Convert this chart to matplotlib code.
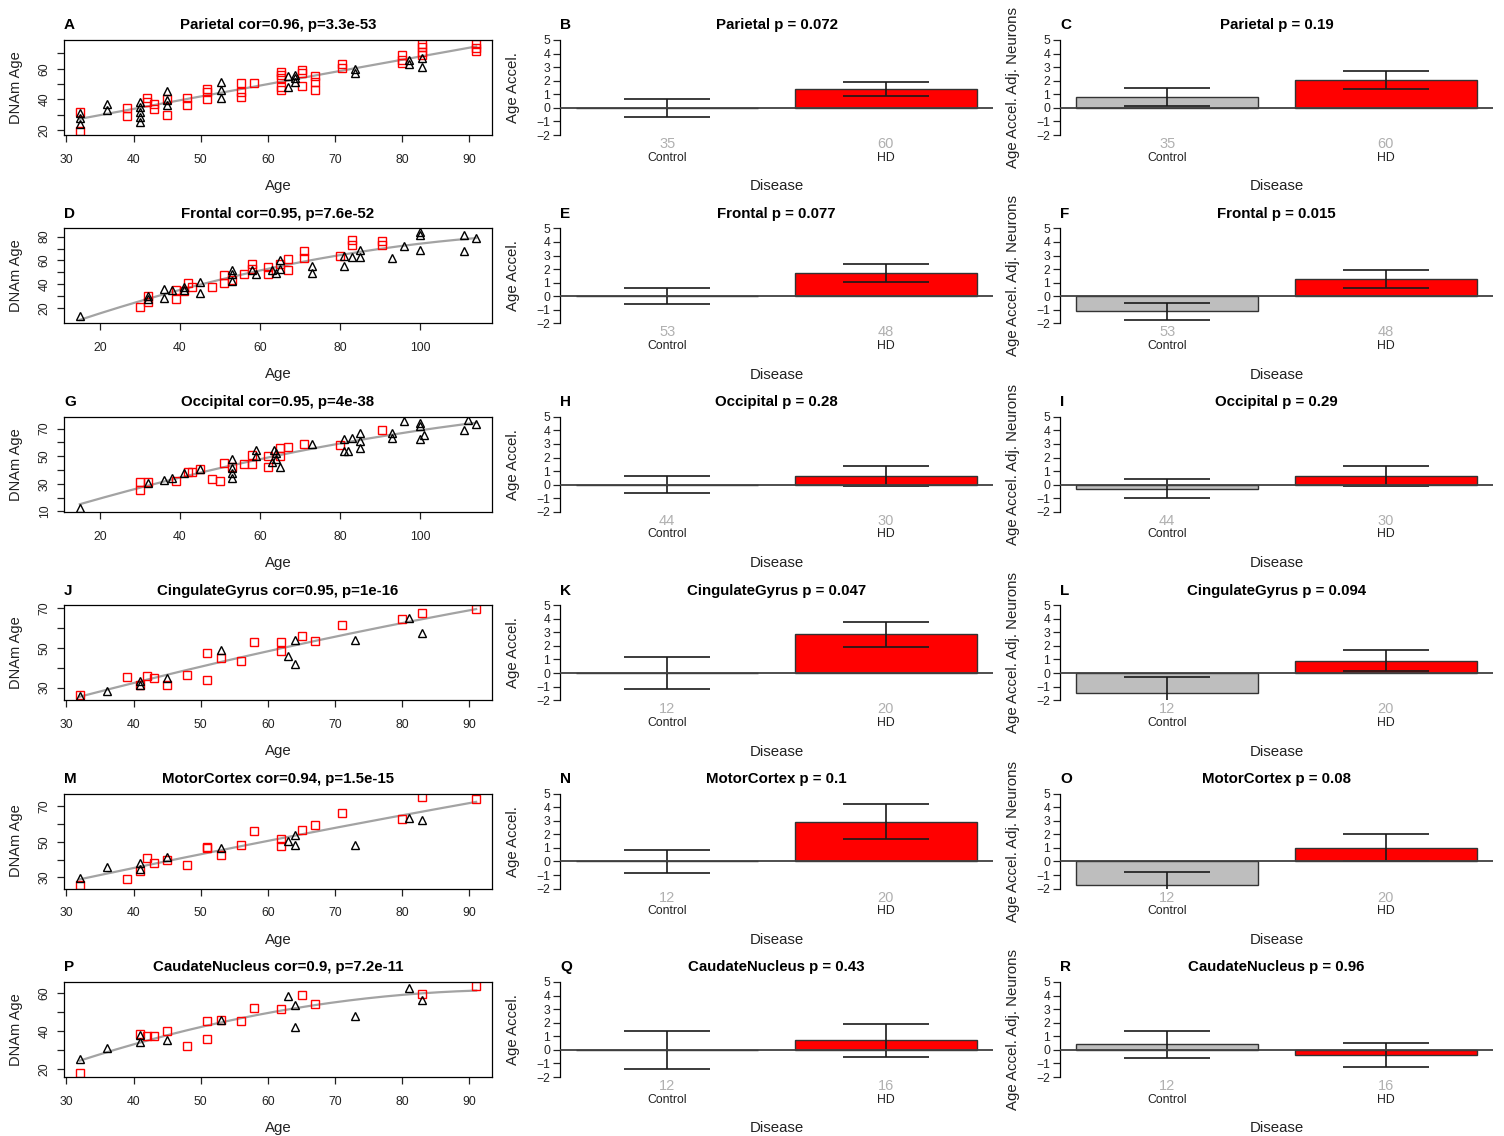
import numpy as np
import matplotlib
matplotlib.use('Agg')
import matplotlib.pyplot as plt

plt.rcParams['font.family'] = ['Liberation Sans', 'DejaVu Sans']

# ---- data ----
regions = ['Parietal', 'Frontal', 'Occipital', 'CingulateGyrus', 'MotorCortex', 'CaudateNucleus']
cor_txt = ['0.96', '0.95', '0.95', '0.95', '0.94', '0.9']
corp_txt = ['3.3e-53', '7.6e-52', '4e-38', '1e-16', '1.5e-15', '7.2e-11']
accel_p = ['0.072', '0.077', '0.28', '0.047', '0.1', '0.43']
adj_p = ['0.19', '0.015', '0.29', '0.094', '0.08', '0.96']
n_ctrl = [35, 53, 44, 12, 12, 12]
n_hd = [60, 48, 30, 20, 20, 16]
groups = ['Control', 'HD']

# age acceleration (mean, se)
accel_ctrl = [0.0, 0.0, 0.0, 0.0, 0.0, 0.0]
accel_ctrl_se = [0.66, 0.6, 0.65, 1.2, 0.87, 1.38]
accel_hd = [1.38, 1.7, 0.65, 2.85, 2.94, 0.7]
accel_hd_se = [0.5, 0.68, 0.72, 0.92, 1.3, 1.22]
# age acceleration adjusted for neurons
adj_ctrl = [0.81, -1.1, -0.3, -1.5, -1.7, 0.42]
adj_ctrl_se = [0.68, 0.63, 0.7, 1.18, 0.95, 0.99]
adj_hd = [2.04, 1.25, 0.65, 0.92, 1.0, -0.37]
adj_hd_se = [0.65, 0.65, 0.72, 0.77, 1.0, 0.87]

# scatter: HD = red squares, Control = black triangles
par_hd_age = [32, 32, 39, 39, 42, 42, 43, 43, 45, 45, 48, 48, 51, 51, 51, 56, 56, 56, 58, 62, 62, 62, 62, 62,
              65, 65, 65, 67, 67, 67, 71, 71, 80, 80, 80, 83, 83, 83, 83, 91, 91, 91]
par_hd_dnam = [19, 32, 34.6, 29, 40.6, 38.5, 36.7, 34, 30, 40, 41, 36, 47, 45, 40, 51, 44.6, 41.5, 50.4, 58, 56,
               53.7, 48, 46, 59, 57, 49, 55, 51.5, 46, 63, 60.6, 69, 66, 63.5, 76, 74, 71, 69, 76.5, 73.7, 71.5]
par_ct_age = [32, 32, 32, 36, 36, 41, 41, 41, 41, 41, 45, 45, 45, 53, 53, 53, 63, 63, 64, 64, 64, 73, 73, 81, 81, 83, 83]
par_ct_dnam = [31, 27.6, 24, 37, 33, 38.5, 35, 32, 28.7, 25, 45.4, 39.6, 36.3, 51.5, 46, 40.6, 55, 48, 56, 53.7,
               51.5, 60, 57, 66, 63, 67, 61]

fro_hd_age = [30, 32, 32, 39, 39, 42, 41, 43, 48, 51, 51, 53, 56, 58, 58, 62, 62, 65, 67, 67, 71, 71, 80, 83, 83, 90.5, 90.5]
fro_hd_dnam = [20.8, 30, 25, 28, 35.6, 41, 34, 38, 38, 47.7, 41.5, 43.6, 49, 57, 53, 54.4, 49, 57, 61, 52, 67.8, 62,
               63.8, 77, 73, 76, 73]
fro_ct_age = [15, 32, 32, 36, 36, 38, 41, 41, 45, 45, 53, 53, 53, 58, 59, 63, 64, 65, 65, 73, 73, 81, 81, 83, 85, 85,
              93, 96, 100, 100, 100, 111, 111, 114]
fro_ct_dnam = [13.5, 30.2, 27.5, 36.4, 28.9, 35, 38, 35.6, 42, 33, 51.7, 49, 42.8, 52, 49, 51.7, 49.6, 60, 53, 55.7,
               49.6, 63.8, 55.7, 63, 69, 63, 62, 72, 84, 81, 69, 81, 68, 78.6]

occ_hd_age = [30, 32, 30, 39, 42, 43, 45, 48, 50, 51, 53, 56, 58, 58, 62, 62, 65, 65, 67, 71, 80, 90.5]
occ_hd_dnam = [31.2, 31.2, 25.4, 32, 38.4, 38.4, 40.4, 33.6, 32, 44.7, 42.3, 44, 44, 50.5, 50, 42.3, 56, 50, 56.7,
               59, 58.4, 68.8]
occ_ct_age = [15, 32, 36, 38, 41, 45, 53, 53, 53, 53, 59, 59, 63, 63.5, 64, 64, 65, 73, 81, 81, 82, 83, 85, 85, 85,
              93, 93, 96, 100, 100, 100, 101, 111, 112, 114]
occ_ct_dnam = [12.2, 30.2, 33, 34.3, 37.5, 40.4, 47.6, 41.6, 38, 34.3, 54.8, 50, 45.7, 54.8, 52.4, 47.6, 42.3, 59,
               53.6, 62.5, 53.6, 63, 66.9, 60.8, 56, 66.9, 63, 75.3, 74, 71.7, 62.5, 65, 69.3, 76, 73]

cin_hd_age = [32, 39, 41, 42, 43, 45, 48, 51, 51, 53, 56, 58, 62, 62, 65, 67, 71, 80, 83, 91]
cin_hd_dnam = [26.5, 35.4, 31.2, 36.1, 34.9, 31.2, 36.6, 47.6, 33.7, 45, 43.4, 53, 53, 48.4, 55.8, 53.5, 61.6,
               64.4, 67.8, 69.8]
cin_ct_age = [32, 36, 41, 41, 45, 53, 63, 64, 64, 73, 81, 83]
cin_ct_dnam = [25.7, 28.5, 33.2, 31.2, 34.9, 48.8, 45.9, 53.8, 42, 53.8, 65.3, 57.7]

mot_hd_age = [32, 39, 41, 42, 43, 45, 48, 51, 51, 53, 56, 58, 62, 62, 65, 67, 71, 80, 83, 91]
mot_hd_dnam = [25.7, 28.9, 33.6, 40.7, 38.2, 39.7, 36.9, 47, 46.3, 42.9, 48.1, 56, 51.5, 47.6, 56.9, 59.7, 66.4,
               63.1, 75.2, 74.3]
mot_ct_age = [32, 36, 41, 41, 45, 53, 63, 64, 64, 73, 81, 83]
mot_ct_dnam = [29.8, 36, 37.9, 35, 41.6, 46.3, 50.4, 54.1, 48.1, 48.5, 63.5, 62.5]

cau_hd_age = [32, 41, 42, 43, 45, 48, 51, 51, 53, 56, 58, 62, 65, 67, 83, 91]
cau_hd_dnam = [17.9, 38.3, 37.6, 37.3, 40, 32.3, 45.3, 35.9, 46, 45.3, 52.2, 51.5, 59.1, 54, 59.5, 63.8]
cau_ct_age = [32, 36, 41, 41, 45, 53, 63, 64, 64, 73, 81, 83]
cau_ct_dnam = [25.2, 31.4, 37.8, 34.3, 35.2, 45.6, 58.1, 53.4, 42.1, 47.7, 62.6, 56.4]

scatter_data = [
    (par_hd_age, par_hd_dnam, par_ct_age, par_ct_dnam),
    (fro_hd_age, fro_hd_dnam, fro_ct_age, fro_ct_dnam),
    (occ_hd_age, occ_hd_dnam, occ_ct_age, occ_ct_dnam),
    (cin_hd_age, cin_hd_dnam, cin_ct_age, cin_ct_dnam),
    (mot_hd_age, mot_hd_dnam, mot_ct_age, mot_ct_dnam),
    (cau_hd_age, cau_hd_dnam, cau_ct_age, cau_ct_dnam),
]
xticks = [[30, 40, 50, 60, 70, 80, 90], [20, 40, 60, 80, 100], [20, 40, 60, 80, 100],
          [30, 40, 50, 60, 70, 80, 90], [30, 40, 50, 60, 70, 80, 90], [30, 40, 50, 60, 70, 80, 90]]
yticks = [[20, 30, 40, 50, 60, 70], [20, 30, 40, 50, 60, 70, 80], [10, 20, 30, 40, 50, 60, 70],
          [30, 40, 50, 60, 70], [30, 40, 50, 60, 70], [20, 30, 40, 50, 60]]
letters = 'ABCDEFGHIJKLMNOPQR'

W, H = 1504, 1136
fig = plt.figure(figsize=(W / 100, H / 100), dpi=100)


def add_px_axes(left, top, right, bottom):
    return fig.add_axes([left / W, 1 - bottom / H, (right - left) / W, (bottom - top) / H])


def style_title(ax, letter, title):
    ax.set_title(title, fontsize=10.8, fontweight='bold', pad=7.7)
    ax.set_title(letter, loc='left', fontsize=11, fontweight='bold', pad=7.7)


def scatter_panel(ax, i):
    hd_age, hd_dnam, ct_age, ct_dnam = scatter_data[i]
    x = np.array(hd_age + ct_age, dtype=float)
    y = np.array(hd_dnam + ct_dnam, dtype=float)
    coef = np.polyfit(x, y, 2)
    xs = np.linspace(x.min(), x.max(), 200)
    ax.plot(xs, np.polyval(coef, xs), color='#a3a3a3', lw=1.6, zorder=1)
    ax.plot(hd_age, hd_dnam, 's', mfc='none', mec='#ff0000', ms=5.4, mew=1.0, zorder=2)
    ax.plot(ct_age, ct_dnam, '^', mfc='none', mec='black', ms=6.4, mew=1.0, zorder=3)
    ax.margins(0.04)
    ax.set_xticks(xticks[i])
    ax.set_yticks(yticks[i])
    ax.set_yticklabels([str(v) if k % 2 == 0 else '' for k, v in enumerate(yticks[i])])
    ax.tick_params(axis='both', length=5, width=0.9, labelsize=8.8, colors='#222222')
    ax.tick_params(axis='x', pad=8.5)
    ax.tick_params(axis='y', pad=4.5, labelrotation=90)
    for lab in ax.get_yticklabels():
        lab.set_va('center')
    for s in ax.spines.values():
        s.set_linewidth(0.9)
    ax.set_xlabel('Age', fontsize=10.8, color='#222222')
    ax.xaxis.set_label_coords(0.5, -0.463)
    ax.set_ylabel('DNAm Age', fontsize=10.5, color='#222222')
    ax.yaxis.set_label_coords(-0.096, 0.5)
    style_title(ax, letters[3 * i], f'{regions[i]} cor={cor_txt[i]}, p={corp_txt[i]}')


def bar_panel(ax, letter, title, ylabel, ncounts, means, ses):
    pos = [0.7, 1.9]
    ax.bar(pos, means, width=1.0, color=['#bebebe', '#ff0000'], edgecolor='#333333', lw=1, zorder=2)
    ax.errorbar(pos, means, yerr=ses, fmt='none', ecolor='#1a1a1a', elinewidth=1.2,
                capsize=31, capthick=1.2, zorder=3)
    ax.axhline(0, color='#404040', lw=1.3, zorder=4)
    ax.set_xlim(0.112, 2.488)
    ax.set_ylim(-2, 5)
    ax.set_xticks([])
    ax.set_yticks(range(-2, 6))
    for side in ['top', 'right', 'bottom']:
        ax.spines[side].set_visible(False)
    ax.spines['left'].set_linewidth(0.9)
    ax.tick_params(axis='y', length=5, width=0.9, labelsize=8.8, pad=2, colors='#222222')
    for p, n, g in zip(pos, ncounts, groups):
        ax.annotate(str(n), xy=(p, 0), xycoords=('data', 'axes fraction'), xytext=(0, -1.5),
                    textcoords='offset points', ha='center', va='top', fontsize=10.5, color='#b0b0b0')
        ax.annotate(g, xy=(p, 0), xycoords=('data', 'axes fraction'), xytext=(0, -12),
                    textcoords='offset points', ha='center', va='top', fontsize=8.8, color='#222222')
    ax.annotate('Disease', xy=(0.5, 0), xycoords='axes fraction', xytext=(0, -32),
                textcoords='offset points', ha='center', va='top', fontsize=10.8, color='#222222')
    ax.set_ylabel(ylabel, fontsize=10.8, color='#222222')
    ax.yaxis.set_label_coords(-0.092, 0.5)
    style_title(ax, letter, title)


pitch = 188.4
for i in range(6):
    top = 40 + i * pitch
    bottom = 135 + i * pitch
    ax = add_px_axes(64, top, 492, bottom)
    scatter_panel(ax, i)

    axb = add_px_axes(560, top, 993, bottom)
    bar_panel(axb, letters[3 * i + 1], f'{regions[i]} p = {accel_p[i]}', 'Age Accel.',
              [n_ctrl[i], n_hd[i]], [accel_ctrl[i], accel_hd[i]], [accel_ctrl_se[i], accel_hd_se[i]])

    axc = add_px_axes(1060, top, 1493, bottom)
    bar_panel(axc, letters[3 * i + 2], f'{regions[i]} p = {adj_p[i]}', 'Age Accel. Adj. Neurons',
              [n_ctrl[i], n_hd[i]], [adj_ctrl[i], adj_hd[i]], [adj_ctrl_se[i], adj_hd_se[i]])

fig.savefig('out.png', dpi=100)
